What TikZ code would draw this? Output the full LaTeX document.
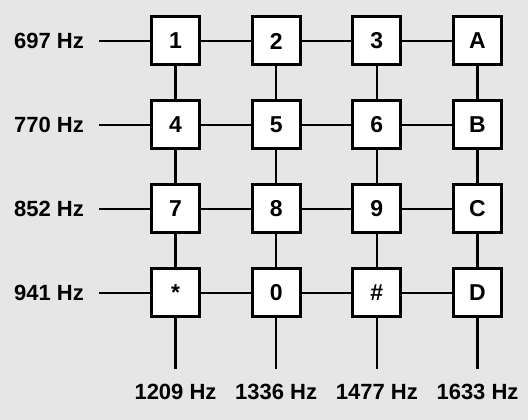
\documentclass[tikz,border=0pt]{standalone}
\usepackage{fontspec}
\setmainfont{Liberation Sans}
\usepackage{xcolor}
\definecolor{panel}{HTML}{E6E6E6}

\begin{document}
\begin{tikzpicture}[x=1pt,y=1pt,
 key/.style={draw,line width=3pt,fill=white,minimum size=48pt,inner sep=0pt,font=\fontsize{23}{23}\selectfont\bfseries},
 freq/.style={inner sep=0pt,font=\fontsize{22}{22}\selectfont\bfseries},
 wire/.style={line width=2.6pt}]

 \def\xa{175.5} \def\dx{100.67} \def\ya{379} \def\dy{84}
 \fill[panel] (0,0) rectangle (528,420);
 \useasboundingbox (0,0) rectangle (528,420);

 %rows
 \foreach \r/\f in {1/697,2/770,3/852,4/941} {
  \node[freq,anchor=east] (f\r) at (84,{\ya-(\r-1)*\dy}) {\f~Hz};
  \coordinate (w\r) at (99,{\ya-(\r-1)*\dy});
 }

 %columns
 \foreach \c/\f in {1/1209,2/1336,3/1477,4/1633} {
  \node[freq] (h\c) at ({\xa+(\c-1)*\dx},28) {\f~Hz};
  \coordinate (b\c) at ({\xa+(\c-1)*\dx},51);
 }

 %keys
 \foreach \r/\row in {1/{1,2,3,A},2/{4,5,6,B},3/{7,8,9,C},4/{*,0,\#,D}}
  \foreach \k [count=\c] in \row
   \node[key] (k\r\c) at ({\xa+(\c-1)*\dx},{\ya-(\r-1)*\dy}) {\k};

 %wires
 \foreach \r in {1,...,4} {
  \draw[wire] (w\r) -- (k\r1);
  \foreach \c [evaluate=\c as \n using int(\c+1)] in {1,2,3}
   \draw[wire] (k\r\c) -- (k\r\n);
 }
 \foreach \c in {1,...,4} {
  \foreach \r [evaluate=\r as \n using int(\r+1)] in {1,2,3}
   \draw[wire] (k\r\c) -- (k\n\c);
  \draw[wire] (k4\c) -- (b\c);
 }

\end{tikzpicture}
\end{document}
